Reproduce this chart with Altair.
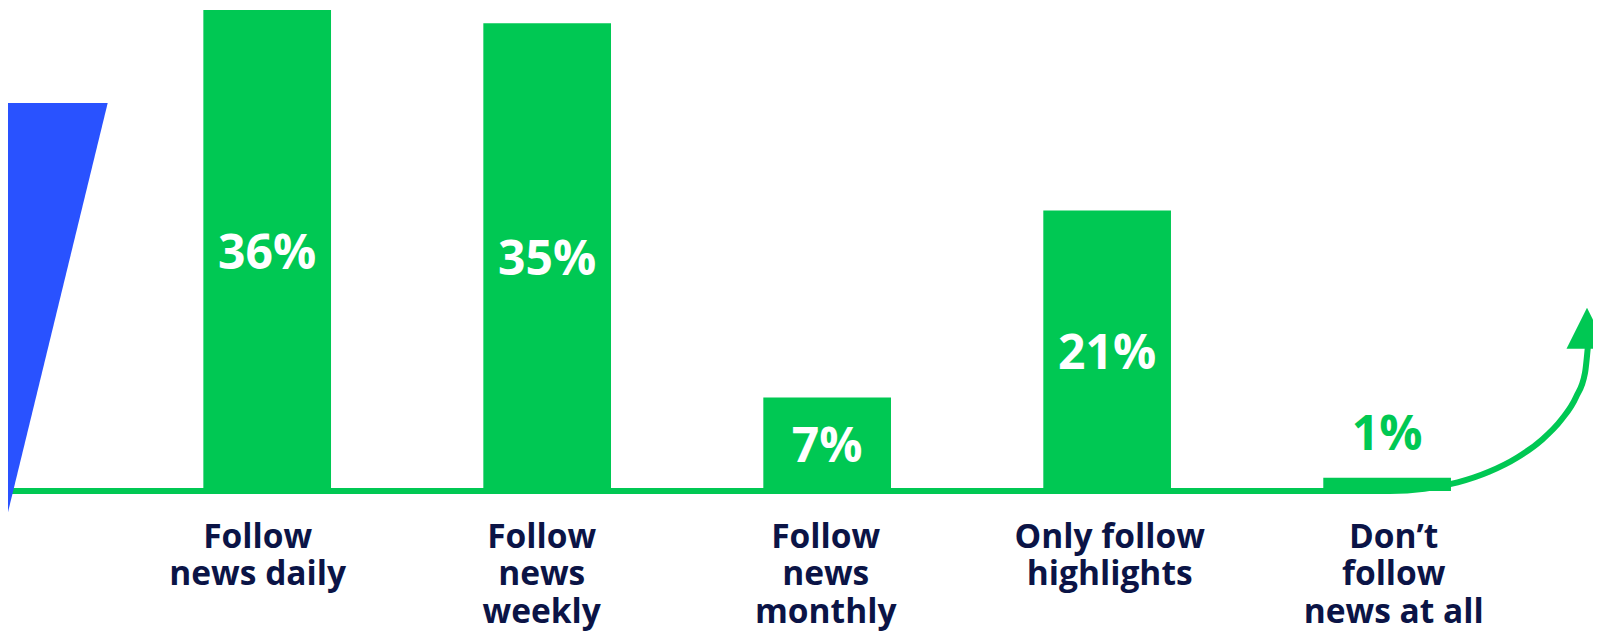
import altair as alt
import pandas as pd

GREEN = "#00C853"
BLUE = "#2952FF"
NAVY = "#0B1446"
FONT = "Open Sans"

# ---- data ----
categories = [
    "Follow\nnews daily",
    "Follow\nnews\nweekly",
    "Follow\nnews\nmonthly",
    "Only follow\nhighlights",
    "Don\u2019t\nfollow\nnews at all",
]
shares = [36, 35, 7, 21, 1]
pct_labels = ["36%", "35%", "7%", "21%", "1%"]

# decoration: baseline that ends in an upward arrow (x: page px, y: % units)
arrow_x = [0, 1390, 1424.4, 1457.7, 1489, 1517.3, 1541.7, 1561.5, 1576.1, 1585, 1588]
arrow_y = [0, 0, 0.165, 0.643, 1.436, 2.506, 3.822, 5.348, 7.038, 8.841, 10.9]
head_x = [1587]
head_y = [12.19]
# decoration: slanted blue shape on the left
wedge_y = [29.04, -4.04]
wedge_x_left = [-20, -20]
wedge_x_right = [107.7, 0]

bars_df = pd.DataFrame({"category": categories, "share": shares, "label": pct_labels})
line_df = pd.DataFrame({"px": arrow_x, "v": arrow_y, "o": list(range(len(arrow_x)))})
head_df = pd.DataFrame({"px": head_x, "v": head_y})
wedge_df = pd.DataFrame({"v": wedge_y, "x1": wedge_x_left, "x2": wedge_x_right})

W = 1585
yscale = alt.Scale(domain=[0, 36], nice=False, zero=True)
band = alt.Scale(type="band", paddingInner=0.544, paddingOuter=0.6025, align=0.579)
label_pts = alt.Scale(type="point", padding=0.7905, align=0.555)
deco_x = alt.Scale(domain=[8, 8 + W], nice=False, zero=False)

x_axis = alt.Axis(
    title=None, domain=False, ticks=False, tickSize=0, grid=False,
    labelPadding=30, labelExpr="split(datum.label, '\\n')",
    labelFont=FONT, labelFontWeight="bold", labelFontSize=33.5,
    labelLineHeight=37.5, labelColor=NAVY, labelAngle=0, labelLimit=0,
    labelAlign="center", labelOverlap=False,
)

line = alt.Chart(line_df).mark_line(
    color=GREEN, strokeWidth=6, interpolate="monotone", strokeCap="butt", strokeJoin="round"
).encode(
    x=alt.X("px:Q", scale=deco_x, axis=None),
    y=alt.Y("v:Q", scale=yscale, axis=None),
    order="o:Q",
)

wedge = alt.Chart(wedge_df).mark_area(orient="horizontal", color=BLUE, opacity=1).encode(
    y=alt.Y("v:Q", scale=yscale, axis=None),
    x=alt.X("x1:Q", scale=deco_x, axis=None),
    x2="x2:Q",
)

head = alt.Chart(head_df).mark_point(
    shape="M0,-1L1,1L-1,1Z", filled=True, size=1681, color=GREEN, opacity=1, strokeWidth=0
).encode(
    x=alt.X("px:Q", scale=deco_x, axis=None),
    y=alt.Y("v:Q", scale=yscale, axis=None),
)

bars = alt.Chart(bars_df).mark_bar(color=GREEN).encode(
    x=alt.X("category:N", sort=categories, scale=band, axis=None),
    y=alt.Y("share:Q", scale=yscale, axis=None),
)

# invisible layer that carries the category axis labels
labels = alt.Chart(bars_df).mark_point(opacity=0, size=1).encode(
    x=alt.X("category:N", sort=categories, scale=label_pts, axis=x_axis),
    y=alt.Y("share:Q", scale=yscale, axis=None),
)

text = alt.Chart(bars_df).transform_calculate(
    ypos="datum.share < 5 ? datum.share + 3.45 : datum.share / 2",
    tcolor=f"datum.share < 5 ? '{GREEN}' : '#FFFFFF'",
).mark_text(
    font=FONT, fontWeight="bold", fontSize=48, baseline="middle", align="center", dy=4
).encode(
    x=alt.X("category:N", sort=categories, scale=band, axis=None),
    y=alt.Y("ypos:Q", scale=yscale, axis=None),
    text="label:N",
    color=alt.Color("tcolor:N", scale=None),
)

chart = alt.layer(line, wedge, bars, head, text, labels).resolve_scale(
    x="independent"
).properties(
    width=W,
    height=481,
    autosize=alt.AutoSizeParams(type="none"),
    padding={"left": 0, "top": 2, "right": 0, "bottom": 140},
    background="white",
).configure_view(stroke=None)

chart.save("out.html", embed_options={"renderer": "svg", "actions": False})
